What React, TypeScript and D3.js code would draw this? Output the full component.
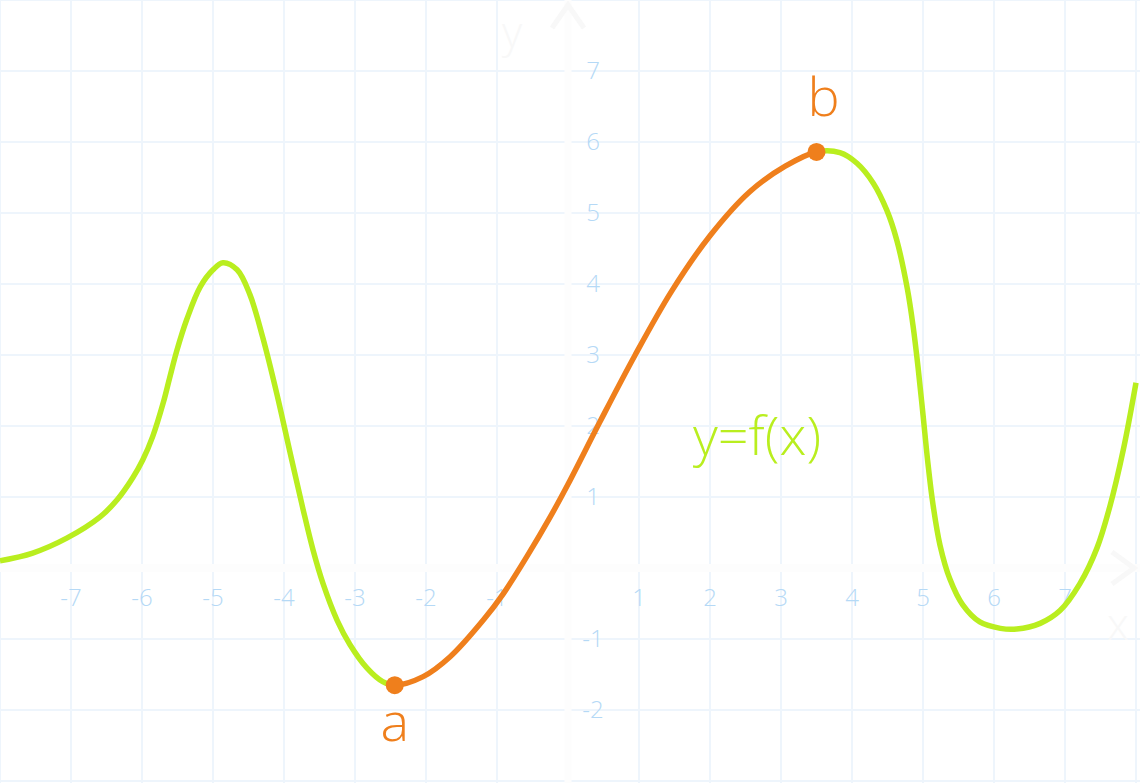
import React from "react";
import * as d3 from "d3";

const W = 1140;
const H = 783;

const curveX = [-8, -7.54, -7.06, -6.59, -6.35, -6.13, -5.99, -5.85, -5.7, -5.61, -5.51, -5.37, -5.18, -5.0, -4.86, -4.66, -4.48, -4.3, -4.1, -3.92, -3.73, -3.59, -3.45, -3.25, -3.07, -2.83, -2.61, -2.44, -2.04, -1.66, -1.19, -0.91, -0.58, -0.25, 0, 0.45, 0.94, 1.46, 2.0, 2.56, 3.06, 3.5, 3.83, 4.07, 4.3, 4.49, 4.63, 4.78, 4.86, 4.93, 5.0, 5.07, 5.14, 5.24, 5.38, 5.56, 5.8, 6.09, 6.32, 6.65, 6.93, 7.21, 7.45, 7.63, 7.82, 8.0];
const curveY = [0.1, 0.21, 0.42, 0.72, 0.96, 1.27, 1.52, 1.85, 2.33, 2.68, 3.06, 3.5, 3.96, 4.2, 4.3, 4.2, 3.85, 3.25, 2.45, 1.65, 0.82, 0.25, -0.22, -0.74, -1.08, -1.41, -1.6, -1.65, -1.53, -1.25, -0.73, -0.36, 0.16, 0.72, 1.18, 2.06, 2.99, 3.9, 4.68, 5.3, 5.66, 5.86, 5.85, 5.7, 5.42, 5.04, 4.62, 3.93, 3.41, 2.83, 2.16, 1.47, 0.9, 0.32, -0.16, -0.52, -0.76, -0.85, -0.86, -0.78, -0.6, -0.22, 0.28, 0.86, 1.66, 2.61];

const pointA = { x: -2.44, y: -1.65, label: "a" };
const pointB = { x: 3.5, y: 5.86, label: "b" };

const xTicks = [-7, -6, -5, -4, -3, -2, -1, 1, 2, 3, 4, 5, 6, 7];
const yTicks = [-2, -1, 1, 2, 3, 4, 5, 6, 7];
const xGrid = d3.range(-8, 9);
const yGrid = d3.range(-3, 9);

const GREEN = "#b9ee1f";
const ORANGE = "#ef7f1c";
const GRID = "#eef5fc";
const TICK = "#b5d9f6";
const FAINT = "#f8f8f8";
const FONT = "'Open Sans', 'Noto Sans', sans-serif";

export default function App() {
  const x = d3.scaleLinear().domain([-8, 8]).range([0, 1136]);
  const y = d3.scaleLinear().domain([-3, 8]).range([781, 0]);
  const pts: [number, number][] = curveX.map((v, i) => [v, curveY[i]]);
  const line = d3
    .line<[number, number]>()
    .x((d) => x(d[0]))
    .y((d) => y(d[1]))
    .curve(d3.curveCatmullRom.alpha(0.5));
  const path = line(pts) || "";
  const xa = x(pointA.x);
  const xb = x(pointB.x);

  return (
    <svg
      width={W}
      height={H}
      style={{ position: "absolute", left: 0, top: 0, background: "#fff" }}
      fontFamily={FONT}
    >
      <defs>
        <clipPath id="clipIn">
          <rect x={xa} y={0} width={xb - xa} height={H} />
        </clipPath>
        <clipPath id="clipOut">
          <path d={`M0,0H${xa}V${H}H0Z M${xb},0H${W}V${H}H${xb}Z`} />
        </clipPath>
      </defs>
      <rect width={W} height={H} fill="#fff" />
      {xGrid.map((v) => (
        <line key={"gx" + v} x1={x(v)} x2={x(v)} y1={0} y2={H} stroke={GRID} strokeWidth={2} />
      ))}
      {yGrid.map((v) => (
        <line key={"gy" + v} x1={0} x2={W} y1={y(v)} y2={y(v)} stroke={GRID} strokeWidth={2} />
      ))}
      {/* faint axes */}
      <line x1={0} x2={W} y1={y(0)} y2={y(0)} stroke="#fdfdfd" strokeWidth={8} />
      <line x1={x(0)} x2={x(0)} y1={0} y2={H} stroke="#fdfdfd" strokeWidth={7} />
      <path d={`M${x(0) - 16},${28} L${x(0)},${5} L${x(0) + 16},${28}`} fill="none" stroke={FAINT} strokeWidth={5} />
      <text x={x(0) - 56} y={48} fontSize={44} fontWeight={300} fill={FAINT} textAnchor="middle">y</text>
      <path d={`M${1112},${y(0) - 16} L${1134},${y(0)} L${1112},${y(0) + 16}`} fill="none" stroke={FAINT} strokeWidth={5} />
      <text x={1118} y={640} fontSize={44} fontWeight={300} fill={FAINT} textAnchor="middle">x</text>

      {xTicks.map((v) => (
        <text key={"tx" + v} x={x(v)} y={y(0) + 38} fontSize={24} fontWeight={300} fill={TICK} textAnchor="middle">
          {v < 0 ? "-" + Math.abs(v) : v}
        </text>
      ))}
      {yTicks.map((v) => (
        <text key={"ty" + v} x={x(0) + 25} y={y(v) + 8} fontSize={24} fontWeight={300} fill={TICK} textAnchor="middle">
          {v < 0 ? "-" + Math.abs(v) : v}
        </text>
      ))}

      <path d={path} fill="none" stroke={GREEN} strokeWidth={5.5} clipPath="url(#clipOut)" />
      <path d={path} fill="none" stroke={ORANGE} strokeWidth={5.5} clipPath="url(#clipIn)" />

      {[pointA, pointB].map((p) => (
        <circle key={p.label} cx={x(p.x)} cy={y(p.y)} r={9} fill={ORANGE} />
      ))}
      <text x={x(pointA.x)} y={y(pointA.y) + 56} fontSize={54} fontWeight={300} fill={ORANGE} textAnchor="middle">
        {pointA.label}
      </text>
      <text x={x(pointB.x) + 7} y={y(pointB.y) - 36} fontSize={54} fontWeight={300} fill={ORANGE} textAnchor="middle">
        {pointB.label}
      </text>
      <text x={693} y={455} fontSize={54} fontWeight={300} fill={GREEN}>
        y=f(x)
      </text>
    </svg>
  );
}
